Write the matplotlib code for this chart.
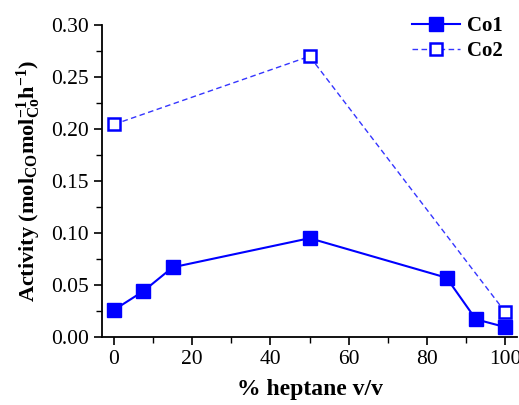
import matplotlib
matplotlib.use('Agg')
from matplotlib import pyplot as plt
from matplotlib.ticker import MultipleLocator

plt.rcParams['font.family'] = ['Liberation Serif', 'DejaVu Serif']
plt.rcParams['mathtext.fontset'] = 'custom'
plt.rcParams['mathtext.bf'] = 'Liberation Serif:bold'
plt.rcParams['mathtext.rm'] = 'Liberation Serif:bold'
plt.rcParams['mathtext.default'] = 'bf'

# Activity vs heptane content
co1_x = [0, 7.5, 15, 50, 85, 92.5, 100]
co1_y = [0.026, 0.044, 0.067, 0.095, 0.057, 0.017, 0.0095]
co2_x = [0, 50, 100]
co2_y = [0.2045, 0.270, 0.024]

fig = plt.figure(figsize=(5.19, 4.05), dpi=100)
ax = fig.add_axes([0.197, 0.168, 0.799, 0.770])

ax.plot(co1_x, co1_y, '-', color='#0000ff', lw=1.5, marker='s', ms=9.5,
        mfc='#0000ff', mec='#0000ff', label='Co1', clip_on=False, zorder=3)
ax.plot(co2_x, co2_y, '--', color='#3535ff', lw=1.0, dashes=(4, 2.5), marker='s', ms=8.5,
        mfc='white', mec='#0000ff', mew=1.8, label='Co2', clip_on=False, zorder=3)

ax.set_xlim(-3, 103)
ax.set_ylim(0, 0.30)
ax.xaxis.set_major_locator(MultipleLocator(20))
ax.xaxis.set_minor_locator(MultipleLocator(10))
ax.yaxis.set_major_locator(MultipleLocator(0.05))
ax.yaxis.set_minor_locator(MultipleLocator(0.025))
ax.yaxis.set_major_formatter(plt.FormatStrFormatter('%.2f'))

for s in ['top', 'right']:
    ax.spines[s].set_visible(False)
for s in ['left', 'bottom']:
    ax.spines[s].set_linewidth(1.3)
ax.tick_params(which='major', direction='out', length=6, width=1.2, labelsize=15.5)
ax.tick_params(which='minor', direction='out', length=4, width=1.0)

ax.set_xlabel('% heptane v/v', fontsize=17, fontweight='bold', labelpad=7)
ax.set_ylabel(r'Activity (mol$_{CO}$mol$_{Co}^{-1}$h$^{-1}$)', fontsize=16,
              fontweight='bold', labelpad=6)

ax.legend(loc='upper right', bbox_to_anchor=(1.01, 1.09), frameon=False,
          prop={'weight': 'bold', 'size': 15}, handlelength=2.3,
          handletextpad=0.3, labelspacing=0.25)

fig.savefig('out.png', dpi=100)
